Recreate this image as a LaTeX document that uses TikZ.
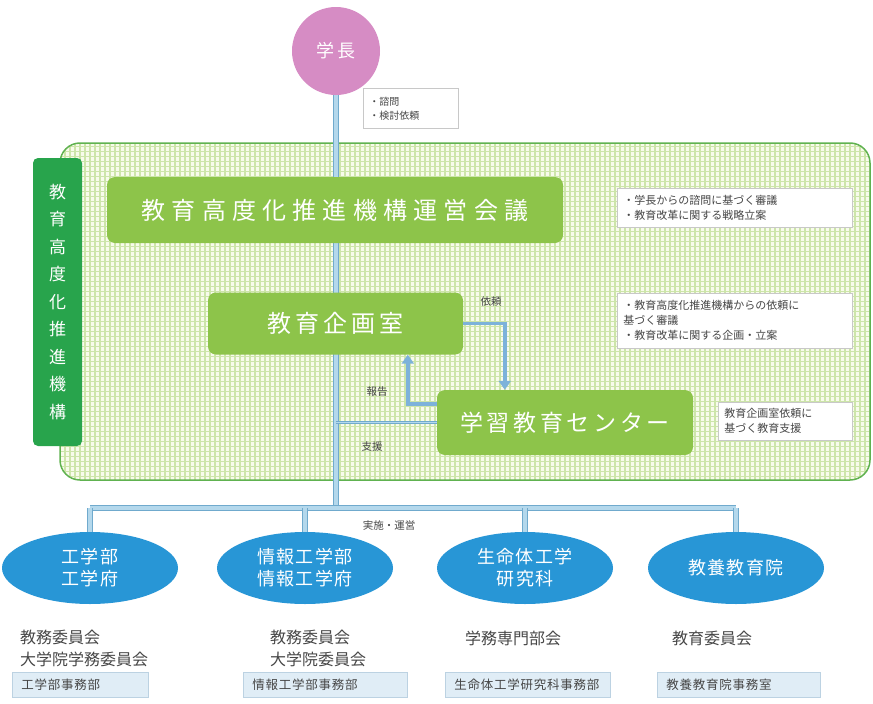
\documentclass[tikz,border=0pt]{standalone}
\usepackage{fontspec}
\setmainfont{Noto Sans CJK JP}
\usetikzlibrary{shapes.geometric,arrows.meta,calc}
\pgfdeclarelayer{back}
\pgfdeclarelayer{pipes}
\pgfsetlayers{back,pipes,main}
\definecolor{pinkc}{RGB}{214,140,196}
\definecolor{greenbox}{RGB}{141,196,74}
\definecolor{darkgreen}{RGB}{40,164,76}
\definecolor{frameg}{RGB}{96,178,80}
\definecolor{gridg}{RGB}{205,229,170}
\definecolor{paleg}{RGB}{248,251,236}
\definecolor{pipeedge}{RGB}{112,170,205}
\definecolor{pipefill}{RGB}{180,216,236}
\definecolor{ellblue}{RGB}{40,150,214}
\definecolor{arrowblue}{RGB}{125,178,218}
\definecolor{txtgray}{RGB}{70,70,70}
\definecolor{officefill}{RGB}{224,237,246}
\definecolor{officeedge}{RGB}{188,210,226}
\definecolor{noteedge}{RGB}{200,200,200}
\tikzset{
  container/.style={draw=frameg, line width=1.5pt, fill=paleg, rounded corners=20pt,
    path picture={\draw[gridg, line width=1.4pt, step=5pt]
      (path picture bounding box.south west) grid (path picture bounding box.north east);}},
  gbox/.style={fill=greenbox, rounded corners=8pt, text=white, inner sep=0pt},
  note/.style={draw=noteedge, fill=white, line width=0.6pt, anchor=north west, align=left,
    text=txtgray, inner xsep=6pt, inner ysep=4pt, font=\fontsize{11}{15}\selectfont},
  pipe/.style={draw=pipeedge, line width=1.4pt, double=pipefill, double distance=3.5pt},
  thinpipe/.style={draw=pipeedge, line width=1pt, double=pipefill, double distance=1.8pt},
  flow/.style={draw=arrowblue, line width=3.8pt, -{Triangle[width=12pt,length=9pt]}},
  lbl/.style={text=txtgray, font=\fontsize{10.5}{12}\selectfont, inner sep=1pt},
  ell/.style={ellipse, fill=ellblue, minimum width=176pt, minimum height=72pt, text=white,
    align=center, inner sep=0pt, font=\fontsize{18}{22}\selectfont\addfontfeature{LetterSpace=8}},
  comm/.style={anchor=west, align=left, text=txtgray, inner sep=0pt,
    font=\fontsize{16}{22}\selectfont},
  office/.style={draw=officeedge, fill=officefill, line width=0.8pt, anchor=north west,
    text width=#1, minimum height=25pt, inner xsep=9pt, inner ysep=0pt, align=left,
    text=txtgray, font=\fontsize{12.5}{14}\selectfont\addfontfeature{LetterSpace=6}}
}
\begin{document}
\begin{tikzpicture}[x=1pt,y=-1pt]
\useasboundingbox (0,0) rectangle (873,704);
\begin{pgfonlayer}{back}
\node[container, minimum width=810pt, minimum height=337pt] (kiko) at (465,311.5) {};
\end{pgfonlayer}

% head
\node[circle, fill=pinkc, minimum size=88pt, text=white, inner sep=0pt,
  font=\fontsize{18}{20}\selectfont\addfontfeature{LetterSpace=12}] (gakucho) at (336,51) {学長};
\node[note, minimum width=95pt, minimum height=40pt, text width=83pt,
  font=\fontsize{10}{14}\selectfont] (shimon) at (363,88) {・諮問\\・検討依頼};

% left label
\node[fill=darkgreen, rounded corners=5pt, minimum width=49pt, minimum height=288pt,
  text=white, align=center, inner sep=0pt, font=\fontsize{17}{27.5}\selectfont]
  (kikolabel) at (57.5,302) {教\\育\\高\\度\\化\\推\\進\\機\\構};

% green boxes
\node[gbox, minimum width=456pt, minimum height=66pt,
  font=\fontsize{24}{28}\selectfont\addfontfeature{LetterSpace=26}] (unei) at (335,210) {教育高度化推進機構運営会議};
\node[gbox, minimum width=255pt, minimum height=62pt,
  font=\fontsize{24}{28}\selectfont\addfontfeature{LetterSpace=16}] (kikaku) at (335.5,323.5) {教育企画室};
\node[gbox, minimum width=256pt, minimum height=65pt,
  font=\fontsize{23}{28}\selectfont\addfontfeature{LetterSpace=16}] (center) at (565,422.5) {学習教育センター};

% notes
\node[note, minimum width=235pt, minimum height=39pt, text width=223pt] (note1) at (617,188)
  {・学長からの諮問に基づく審議\\・教育改革に関する戦略立案};
\node[note, minimum width=235pt, minimum height=55pt, text width=223pt] (note2) at (617,293)
  {・教育高度化推進機構からの依頼に\\基づく審議\\・教育改革に関する企画・立案};
\node[note, minimum width=134pt, minimum height=38pt, text width=122pt] (note3) at (718,402)
  {教育企画室依頼に\\基づく教育支援};

% bus
\coordinate (bus) at (336,508);

% faculties
\node[ell] (e1) at (90,568) {工学部\\工学府};
\node[ell] (e2) at (305,568) {情報工学部\\情報工学府};
\node[ell] (e3) at (525,568) {生命体工学\\研究科};
\node[ell] (e4) at (736,568) {教養教育院};

\begin{pgfonlayer}{pipes}
\draw[pipe] (gakucho.south) -- (bus);
\draw[pipe] (e1.north |- bus) -- (e4.north |- bus);
\draw[pipe] (e1.north |- bus) -- (e1.north);
\draw[pipe] (e2.north |- bus) -- (e2.north);
\draw[pipe] (e3.north |- bus) -- (e3.north);
\draw[pipe] (e4.north |- bus) -- (e4.north);
\draw[thinpipe] (gakucho.south |- center.west) -- (center.west);
\end{pgfonlayer}

% arrows
\draw[flow] (kikaku.east) -| ($(center.north west)+(68,0)$);
\draw[flow] ($(center.north west)+(0,14)$) -| ($(kikaku.south west)+(200,0)$);

% labels
\node[lbl] (lirai) at (491,302) {依頼};
\node[lbl] (lhoukoku) at (377,392) {報告};
\node[lbl] (lshien) at (372,447) {支援};
\node[lbl] (ljisshi) at (389,526) {実施・運営};

% committees
\node[comm] (c1) at (20,648) {教務委員会\\大学院学務委員会};
\node[comm] (c2) at (270,648) {教務委員会\\大学院委員会};
\node[comm] (c3) at (465,638) {学務専門部会};
\node[comm] (c4) at (672,638) {教育委員会};

% offices
\node[office=118pt] (o1) at (12,672) {工学部事務部};
\node[office=146pt] (o2) at (243,672) {情報工学部事務部};
\node[office=147pt] (o3) at (445,672) {生命体工学研究科事務部};
\node[office=145pt] (o4) at (657,672) {教養教育院事務室};
\end{tikzpicture}
\end{document}
